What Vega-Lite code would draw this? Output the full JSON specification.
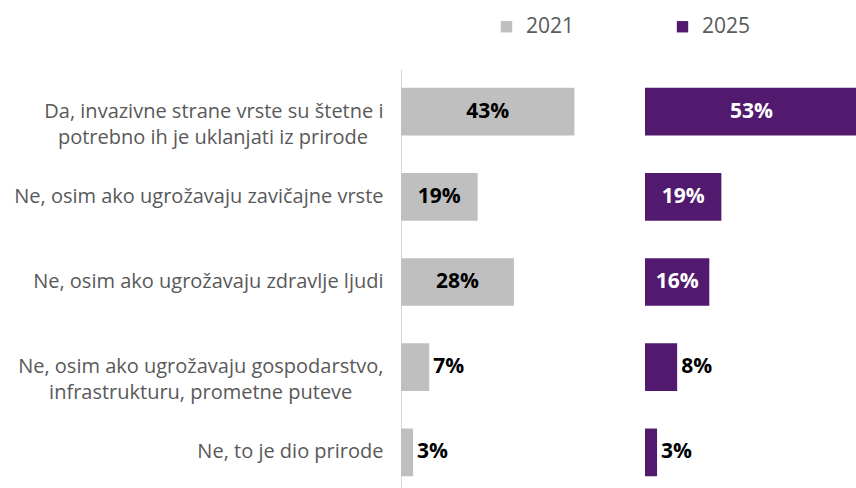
{
  "$schema": "https://vega.github.io/schema/vega-lite/v6.json",
  "padding": {"left": 0, "top": 16, "right": 0, "bottom": 0},
  "background": "white",
  "config": {"view": {"stroke": null}, "font": "Open Sans"},
  "datasets": {
    "main": [
      {"answer": "Da, invazivne strane vrste su štetne i|potrebno ih je uklanjati iz prirode", "year": "2021", "value": 0.43},
      {"answer": "Ne, osim ako ugrožavaju zavičajne vrste", "year": "2021", "value": 0.19},
      {"answer": "Ne, osim ako ugrožavaju zdravlje ljudi", "year": "2021", "value": 0.28},
      {"answer": "Ne, osim ako ugrožavaju gospodarstvo,|infrastrukturu, prometne puteve", "year": "2021", "value": 0.07},
      {"answer": "Ne, to je dio prirode", "year": "2021", "value": 0.03},
      {"answer": "Da, invazivne strane vrste su štetne i|potrebno ih je uklanjati iz prirode", "year": "2025", "value": 0.53},
      {"answer": "Ne, osim ako ugrožavaju zavičajne vrste", "year": "2025", "value": 0.19},
      {"answer": "Ne, osim ako ugrožavaju zdravlje ljudi", "year": "2025", "value": 0.16},
      {"answer": "Ne, osim ako ugrožavaju gospodarstvo,|infrastrukturu, prometne puteve", "year": "2025", "value": 0.08},
      {"answer": "Ne, to je dio prirode", "year": "2025", "value": 0.03}
    ]
  },
  "data": {"name": "main"},
  "spacing": 0,
  "hconcat": [
    {
      "width": 244,
      "height": 426,
      "transform": [{"filter": "datum.year == '2021'"}],
      "encoding": {
        "y": {
          "field": "answer", "type": "nominal", "sort": null,
          "scale": {"paddingInner": 0.44, "paddingOuter": 0.22},
          "axis": {
            "title": null, "domain": true, "domainColor": "#d9d9d9", "domainWidth": 1,
            "ticks": false, "labelPadding": 18, "labelFont": "Open Sans", "labelFontSize": 20,
            "labelColor": "#595959", "labelLimit": 450, "labelLineHeight": 26,
            "minExtent": 401, "maxExtent": 401,
            "labelExpr": "length(split(datum.value,'|')) > 1 ? [split(datum.value,'|')[0], split(datum.value,'|')[1] + (indexof(datum.value,'Da,') == 0 ? '\u00a0\u00a0\u00a0\u200b' : '\u00a0\u00a0\u00a0\u00a0\u00a0\u00a0\u200b')] : datum.value"
          }
        }
      },
      "resolve": {"scale": {"x": "independent"}},
      "layer": [
        {
          "mark": {"type": "bar"},
          "encoding": {
            "x": {"field": "value", "type": "quantitative", "scale": {"domain": [0, 0.605]}, "axis": null},
            "color": {
              "field": "year", "type": "nominal",
              "scale": {"domain": ["2021", "2025"], "range": ["#bfbfbf", "#521a6e"]},
              "legend": {
                "orient": "none", "legendX": 95, "legendY": -53, "direction": "horizontal",
                "title": null, "symbolType": "square", "symbolSize": 130, "symbolStrokeWidth": 0,
                "symbolOpacity": 1, "labelFont": "Open Sans", "labelFontSize": 21, "labelColor": "#595959",
                "labelOffset": 9, "columnPadding": 97, "padding": 0
              }
            }
          }
        },
        {
          "transform": [{"filter": "datum.value >= 0.15"}],
          "mark": {"type": "text", "font": "Open Sans", "fontWeight": "bold", "fontSize": 21, "color": "#000000", "align": "center", "baseline": "middle"},
          "encoding": {
            "x": {"field": "value", "type": "quantitative", "scale": {"domain": [0, 1.21]}, "axis": null},
            "text": {"field": "value", "type": "quantitative", "format": ".0%"}
          }
        },
        {
          "transform": [{"filter": "datum.value < 0.15"}],
          "mark": {"type": "text", "font": "Open Sans", "fontWeight": "bold", "fontSize": 21, "color": "#000000", "align": "left", "baseline": "middle", "dx": 4},
          "encoding": {
            "x": {"field": "value", "type": "quantitative", "scale": {"domain": [0, 0.605]}, "axis": null},
            "text": {"field": "value", "type": "quantitative", "format": ".0%"}
          }
        }
      ]
    },
    {
      "width": 211,
      "height": 426,
      "transform": [{"filter": "datum.year == '2025'"}],
      "encoding": {
        "y": {
          "field": "answer", "type": "nominal", "sort": null,
          "scale": {"paddingInner": 0.44, "paddingOuter": 0.22},
          "axis": null
        }
      },
      "resolve": {"scale": {"x": "independent"}},
      "layer": [
        {
          "mark": {"type": "bar"},
          "encoding": {
            "x": {"field": "value", "type": "quantitative", "scale": {"domain": [0, 0.525]}, "axis": null},
            "color": {"field": "year", "type": "nominal"}
          }
        },
        {
          "transform": [{"filter": "datum.value >= 0.15"}],
          "mark": {"type": "text", "font": "Open Sans", "fontWeight": "bold", "fontSize": 21, "color": "#ffffff", "align": "center", "baseline": "middle"},
          "encoding": {
            "x": {"field": "value", "type": "quantitative", "scale": {"domain": [0, 1.05]}, "axis": null},
            "text": {"field": "value", "type": "quantitative", "format": ".0%"}
          }
        },
        {
          "transform": [{"filter": "datum.value < 0.15"}],
          "mark": {"type": "text", "font": "Open Sans", "fontWeight": "bold", "fontSize": 21, "color": "#000000", "align": "left", "baseline": "middle", "dx": 4},
          "encoding": {
            "x": {"field": "value", "type": "quantitative", "scale": {"domain": [0, 0.525]}, "axis": null},
            "text": {"field": "value", "type": "quantitative", "format": ".0%"}
          }
        }
      ]
    }
  ]
}
